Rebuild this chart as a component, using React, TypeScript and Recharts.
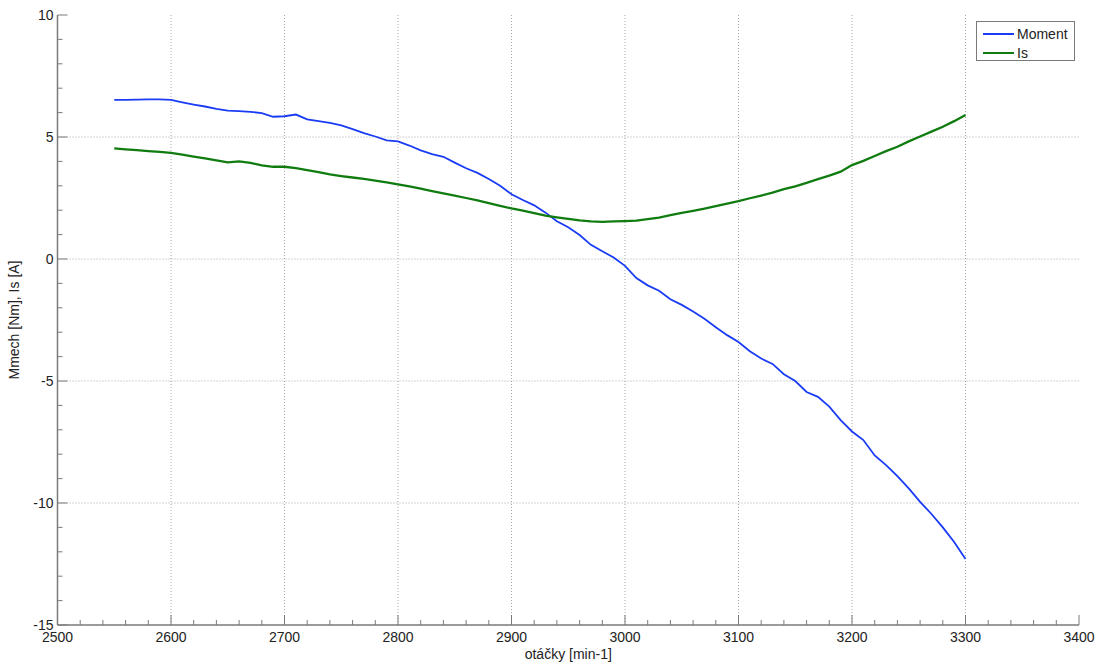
import React from 'react';
import { LineChart, Line, XAxis, YAxis, ReferenceLine } from 'recharts';

const rpm = [
  2550, 2560, 2570, 2580, 2590, 2600, 2610, 2620, 2630, 2640,
  2650, 2660, 2670, 2680, 2690, 2700, 2710, 2720, 2730, 2740,
  2750, 2760, 2770, 2780, 2790, 2800, 2810, 2820, 2830, 2840,
  2850, 2860, 2870, 2880, 2890, 2900, 2910, 2920, 2930, 2940,
  2950, 2960, 2970, 2980, 2990, 3000, 3010, 3020, 3030, 3040,
  3050, 3060, 3070, 3080, 3090, 3100, 3110, 3120, 3130, 3140,
  3150, 3160, 3170, 3180, 3190, 3200, 3210, 3220, 3230, 3240,
  3250, 3260, 3270, 3280, 3290, 3300,
];

const moment = [
  6.52, 6.52, 6.53, 6.54, 6.54, 6.52, 6.42, 6.33, 6.25, 6.15,
  6.08, 6.06, 6.03, 5.98, 5.83, 5.85, 5.92, 5.72, 5.65, 5.58,
  5.48, 5.32, 5.16, 5.02, 4.86, 4.82, 4.65, 4.45, 4.30, 4.19,
  3.95, 3.72, 3.53, 3.28, 3.0, 2.65, 2.42, 2.2, 1.9, 1.55,
  1.3, 0.98, 0.58, 0.32, 0.06, -0.28, -0.78, -1.08, -1.3, -1.65,
  -1.88, -2.15, -2.45, -2.8, -3.12, -3.4, -3.78, -4.08, -4.3, -4.72,
  -5.0, -5.45, -5.65, -6.05, -6.6, -7.07, -7.42, -8.05, -8.45, -8.9,
  -9.4, -9.95, -10.45, -11.0, -11.6, -12.3,
];

const current = [
  4.53, 4.49, 4.46, 4.42, 4.39, 4.35, 4.28, 4.2, 4.12, 4.04,
  3.96, 4.0, 3.94, 3.84, 3.78, 3.78, 3.72, 3.64, 3.56, 3.47,
  3.4, 3.34, 3.28, 3.21, 3.14, 3.06, 2.98, 2.88, 2.78, 2.69,
  2.6, 2.5, 2.4, 2.29, 2.18, 2.07, 1.98, 1.88, 1.78, 1.71,
  1.64, 1.58, 1.54, 1.52, 1.54, 1.55, 1.57, 1.63, 1.7, 1.8,
  1.89, 1.97, 2.06, 2.17, 2.27, 2.37, 2.49, 2.6, 2.72, 2.86,
  2.98, 3.12, 3.27, 3.42, 3.58, 3.85, 4.02, 4.22, 4.42, 4.6,
  4.82, 5.02, 5.22, 5.42, 5.65, 5.9,
];

const xMajor = [2500, 2600, 2700, 2800, 2900, 3000, 3100, 3200, 3300, 3400];
const yMajor = [-15, -10, -5, 0, 5, 10];
const xMinor: number[] = [];
for (let v = 2500; v <= 3400; v += 20) xMinor.push(v);
const yMinor: number[] = [];
for (let v = -15; v <= 10; v += 1) yMinor.push(v);

const seriesNames = ['Moment', 'Is'];
const seriesKeys = ['moment', 'is'];
const seriesColors = ['#1a3cf5', '#107c10'];
const seriesWidths = [1.8, 2.3];

const data = rpm.map((r, i) => ({ rpm: r, moment: moment[i], is: current[i] }));

const FONT = '"Liberation Sans", Arial, sans-serif';
const AXIS = '#7a7a7a';
const GRID = '#a8a8a8';
const TEXT = '#222';

const XTickBottom = (p: any) => {
  const v = p.payload.value;
  const major = xMajor.includes(v);
  return (
    <g>
      <line x1={p.x} x2={p.x} y1={p.y} y2={p.y - (major ? 10 : 5)} stroke={AXIS} strokeWidth={1} />
      {major && (
        <text x={p.x} y={p.y + 17} textAnchor="middle" fontSize={14} fontFamily={FONT} fill={TEXT}>
          {v}
        </text>
      )}
    </g>
  );
};

const XTickTop = (p: any) => {
  const v = p.payload.value;
  const major = xMajor.includes(v);
  return <line x1={p.x} x2={p.x} y1={p.y} y2={p.y + (major ? 10 : 5)} stroke={AXIS} strokeWidth={1} />;
};

const YTickLeft = (p: any) => {
  const v = p.payload.value;
  const major = yMajor.includes(v);
  return (
    <g>
      <line x1={p.x} x2={p.x + (major ? 10 : 5)} y1={p.y} y2={p.y} stroke={AXIS} strokeWidth={1} />
      {major && (
        <text x={p.x - 4} y={p.y + 5} textAnchor="end" fontSize={14} fontFamily={FONT} fill={TEXT}>
          {v}
        </text>
      )}
    </g>
  );
};

const YTickRight = (p: any) => {
  const v = p.payload.value;
  const major = yMajor.includes(v);
  return <line x1={p.x} x2={p.x - (major ? 10 : 5)} y1={p.y} y2={p.y} stroke={AXIS} strokeWidth={1} />;
};

export default function App() {
  return (
    <div style={{ position: 'absolute', left: 0, top: 0, width: 1104, height: 664, background: '#fff' }}>
      <LineChart
        width={1104}
        height={664}
        data={data}
        margin={{ top: 15, right: 25, bottom: 9, left: 0 }}
      >
        <XAxis
          dataKey="rpm"
          type="number"
          domain={[2500, 3400]}
          ticks={xMinor}
          interval={0}
          allowDataOverflow
          height={30}
          tickSize={0}
          tickMargin={0}
          tick={XTickBottom}
          axisLine={{ stroke: AXIS, strokeWidth: 1.5 }}
          label={{
            value: 'otáčky [min-1]',
            position: 'insideBottom',
            offset: -4,
            style: { fontSize: 14, fontFamily: FONT, fill: TEXT },
          }}
        />
        <XAxis
          xAxisId="top"
          dataKey="rpm"
          orientation="top"
          type="number"
          domain={[2500, 3400]}
          ticks={xMinor}
          interval={0}
          allowDataOverflow
          height={0}
          tickSize={0}
          tickMargin={0}
          tick={XTickTop}
          axisLine={{ stroke: AXIS, strokeWidth: 1.5 }}
        />
        <YAxis
          type="number"
          domain={[-15, 10]}
          ticks={yMinor}
          interval={0}
          allowDataOverflow
          width={57.5}
          tickSize={0}
          tickMargin={0}
          tick={YTickLeft}
          axisLine={{ stroke: AXIS, strokeWidth: 1.5 }}
          label={{
            value: 'Mmech [Nm], Is [A]',
            angle: -90,
            position: 'insideLeft',
            offset: 14,
            style: { fontSize: 14, fontFamily: FONT, fill: TEXT, textAnchor: 'middle' },
          }}
        />
        <YAxis
          yAxisId="right"
          orientation="right"
          type="number"
          domain={[-15, 10]}
          ticks={yMinor}
          interval={0}
          allowDataOverflow
          width={0}
          tickSize={0}
          tickMargin={0}
          tick={YTickRight}
          axisLine={{ stroke: AXIS, strokeWidth: 1.5 }}
        />
        {xMajor.slice(1, -1).map((v) => (
          <ReferenceLine key={'gx' + v} x={v} stroke={GRID} strokeDasharray="1 2" />
        ))}
        {yMajor.slice(1, -1).map((v) => (
          <ReferenceLine key={'gy' + v} y={v} stroke={GRID} strokeDasharray="1 2" />
        ))}
        {seriesKeys.map((k, i) => (
          <Line
            key={k}
            dataKey={k}
            name={seriesNames[i]}
            type="linear"
            stroke={seriesColors[i]}
            strokeWidth={seriesWidths[i]}
            dot={false}
            isAnimationActive={false}
          />
        ))}
      </LineChart>
      <div
        style={{
          position: 'absolute',
          left: 976,
          top: 21,
          width: 99,
          height: 40,
          border: `1px solid ${AXIS}`,
          background: '#fff',
          fontFamily: FONT,
          fontSize: 14,
          color: TEXT,
          boxSizing: 'border-box',
        }}
      >
        {seriesNames.map((n, i) => (
          <div key={n} style={{ position: 'absolute', left: 6, top: 3 + i * 19, height: 17, display: 'flex', alignItems: 'center' }}>
            <div style={{ width: 31, height: 0, borderTop: `2px solid ${seriesColors[i]}`, marginRight: 3 }} />
            <span>{n}</span>
          </div>
        ))}
      </div>
    </div>
  );
}
